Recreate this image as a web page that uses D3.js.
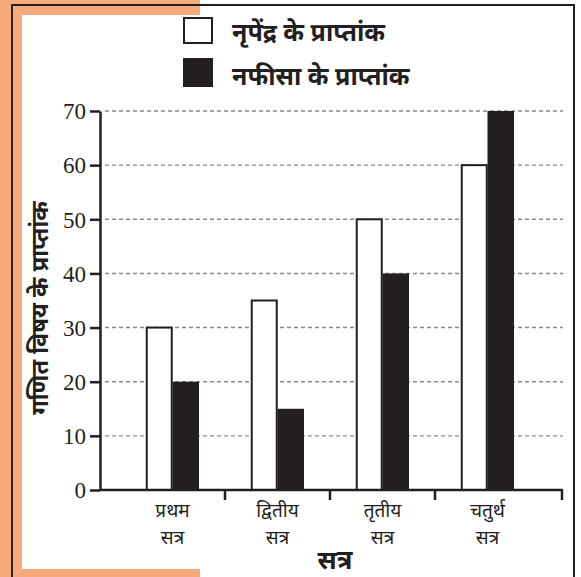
<!DOCTYPE html>
<html>
<head>
<meta charset="utf-8">
<script src="https://cdn.jsdelivr.net/npm/d3@7"></script>
<style>
  html, body { margin: 0; padding: 0; background: #fff; }
  svg { display: block; }
</style>
</head>
<body>
<svg id="chart" width="581" height="577"></svg>
<script>
// Sessions (categories) and the two students' marks in mathematics
const sessionsTop = ["प्रथम", "द्वितीय", "तृतीय", "चतुर्थ"];
const sessionsBottom = ["सत्र", "सत्र", "सत्र", "सत्र"];
const seriesNames = ["नृपेंद्र के प्राप्तांक", "नफीसा के प्राप्तांक"];
const nripendraMarks = [30, 35, 50, 60];
const nafisaMarks = [20, 15, 40, 70];
const yTicks = [0, 10, 20, 30, 40, 50, 60, 70];

const seriesFill = ["#ffffff", "#231f20"];
const ink = "#231f20";
const devFont = "'Noto Sans', 'Lohit Devanagari', 'Noto Sans Devanagari', sans-serif";

const svg = d3.select("#chart");

// page frame: orange margin at left with black rule lines
svg.append("rect").attr("x", 0).attr("y", 0).attr("width", 200).attr("height", 577).attr("fill", "#f6a97b");
svg.append("rect").attr("x", 22).attr("y", 15).attr("width", 559).attr("height", 554).attr("fill", "#fff");
svg.append("rect").attr("x", 200).attr("y", 0).attr("width", 381).attr("height", 577).attr("fill", "#fff");
svg.append("path")
  .attr("d", "M12,577V5H574V577")
  .attr("fill", "none").attr("stroke", ink).attr("stroke-width", 2);

const data = sessionsTop.map((s, i) => ({ key: s, values: [nripendraMarks[i], nafisaMarks[i]] }));

const x = d3.scaleBand().domain(sessionsTop).range([120, 540]).padding(0);
const bw = x.bandwidth();
const barW = 26.5;
const xSub = d3.scaleBand().domain(seriesNames).range([bw / 2 - barW, bw / 2 + barW]).padding(0);
const y = d3.scaleLinear().domain([0, 70]).range([490, 111]);

const axisLeft = 100, axisRight = 562;

// dashed horizontal gridlines
svg.append("g").selectAll("line")
  .data(yTicks.filter(d => d > 0))
  .join("line")
  .attr("x1", axisLeft + 5).attr("x2", axisRight + 1)
  .attr("y1", d => y(d)).attr("y2", d => y(d))
  .attr("stroke", "#8a8a8a").attr("stroke-width", 1.4)
  .attr("stroke-dasharray", "4,3");

// bars
const groups = svg.append("g").selectAll("g")
  .data(data).join("g")
  .attr("transform", d => `translate(${x(d.key)},0)`);

groups.selectAll("rect")
  .data(d => d.values.map((v, i) => ({ name: seriesNames[i], v, i })))
  .join("rect")
  .attr("x", d => xSub(d.name) + (d.i === 0 ? 0.75 : 0))
  .attr("width", d => xSub.bandwidth() - (d.i === 0 ? 1.5 : 0))
  .attr("y", d => y(d.v))
  .attr("height", d => y(0) - y(d.v))
  .attr("fill", d => seriesFill[d.i])
  .attr("stroke", d => d.i === 0 ? ink : "none")
  .attr("stroke-width", 2);

// y axis
const yAxis = d3.axisLeft(y).tickValues(yTicks).tickSize(10).tickPadding(4).tickSizeOuter(0);
const gy = svg.append("g").attr("transform", `translate(${axisLeft},0)`).call(yAxis);
gy.select(".domain").attr("stroke", ink).attr("stroke-width", 2.5);
gy.selectAll(".tick line").attr("stroke", ink).attr("stroke-width", 2.5);
gy.selectAll(".tick text")
  .attr("fill", ink)
  .attr("font-family", "'Liberation Serif', 'Times New Roman', serif")
  .attr("font-size", 23)
  .attr("dy", "0.34em");

// x axis baseline with dividers between sessions
svg.append("line")
  .attr("x1", axisLeft).attr("x2", axisRight + 1)
  .attr("y1", y(0)).attr("y2", y(0))
  .attr("stroke", ink).attr("stroke-width", 2.5);
const dividers = sessionsTop.slice(1).map(s => x(s)).concat([axisRight]);
svg.append("g").selectAll("line")
  .data(dividers).join("line")
  .attr("x1", d => d).attr("x2", d => d)
  .attr("y1", y(0)).attr("y2", y(0) + 10)
  .attr("stroke", ink).attr("stroke-width", 2.5);

// category labels (two lines)
const catLabels = svg.append("g").attr("font-family", devFont).attr("font-size", 19)
  .attr("fill", ink).attr("text-anchor", "middle");
catLabels.selectAll("text.l1")
  .data(sessionsTop).join("text").attr("class", "l1")
  .attr("x", d => x(d) + bw / 2).attr("y", 517).text(d => d);
catLabels.selectAll("text.l2")
  .data(sessionsTop).join("text").attr("class", "l2")
  .attr("x", d => x(d) + bw / 2).attr("y", 544).text((d, i) => sessionsBottom[i]);

// axis titles
svg.append("text")
  .attr("x", 335).attr("y", 569)
  .attr("text-anchor", "middle")
  .attr("font-family", devFont).attr("font-size", 26).attr("font-weight", "bold")
  .attr("fill", ink)
  .text("सत्र");

svg.append("text")
  .attr("transform", "translate(48,308) rotate(-90)")
  .attr("text-anchor", "middle")
  .attr("font-family", devFont).attr("font-size", 23.5).attr("font-weight", "bold")
  .attr("fill", ink)
  .text("गणित विषय के प्राप्तांक");

// legend
const legend = svg.append("g");
const legendRows = seriesNames.map((n, i) => ({ n, i }));
legend.selectAll("rect")
  .data(legendRows).join("rect")
  .attr("x", d => d.i === 0 ? 184 : 183)
  .attr("y", d => d.i === 0 ? 18 : 58)
  .attr("width", d => d.i === 0 ? 28 : 30)
  .attr("height", d => d.i === 0 ? 25 : 29)
  .attr("fill", d => seriesFill[d.i])
  .attr("stroke", d => d.i === 0 ? ink : "none")
  .attr("stroke-width", 2);
legend.selectAll("text")
  .data(legendRows).join("text")
  .attr("x", 232)
  .attr("y", d => d.i === 0 ? 41 : 85)
  .attr("font-family", devFont).attr("font-size", 25).attr("font-weight", "bold")
  .attr("fill", ink)
  .text(d => d.n);
</script>
</body>
</html>
